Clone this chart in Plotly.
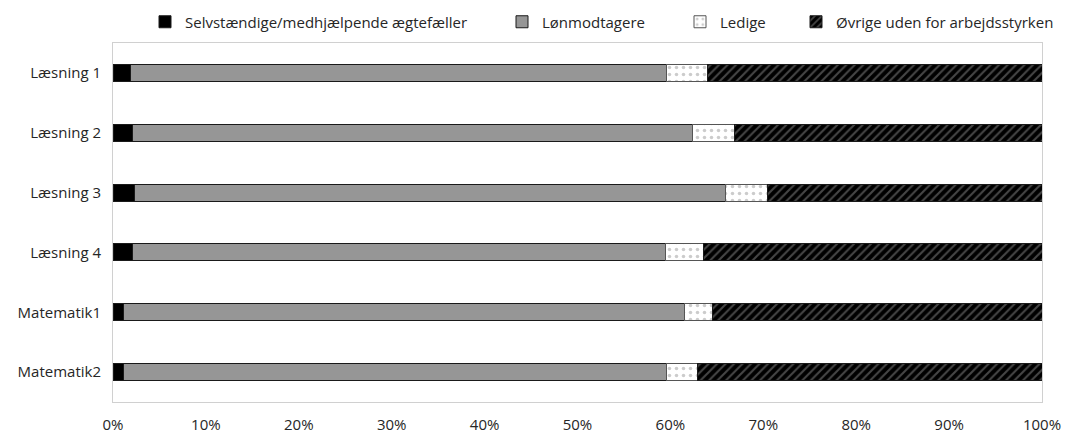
import plotly.graph_objects as go

categories = ["Læsning 1", "Læsning 2", "Læsning 3", "Læsning 4", "Matematik1", "Matematik2"]
selvstaendige = [1.9, 2.1, 2.3, 2.1, 1.1, 1.1]
loenmodtagere = [57.7, 60.3, 63.6, 57.4, 60.4, 58.5]
ledige = [4.4, 4.5, 4.5, 4.1, 3.0, 3.3]
oevrige = [36.0, 33.1, 29.6, 36.4, 35.5, 37.1]
x_ticks = list(range(0, 101, 10))
x_tick_labels = [f"{v}%" for v in x_ticks]

FONT = "Open Sans"
FS = 15
W, H = 1065, 433
L, R, T, B = 113, 23, 43, 31
PW, PH = W - L - R, H - T - B

fig = go.Figure()
line = dict(color="#1a1a1a", width=1)
fig.add_trace(go.Bar(y=categories, x=selvstaendige, orientation="h",
                     name="Selvstændige/medhjælpende ægtefæller", legend="legend",
                     showlegend=True,
                     marker=dict(color="#000000", line=line)))
fig.add_trace(go.Bar(y=categories, x=loenmodtagere, orientation="h",
                     name="Lønmodtagere", legend="legend2", showlegend=True,
                     marker=dict(color="#969696", line=line)))
fig.add_trace(go.Bar(y=categories, x=ledige, orientation="h",
                     name="Ledige", legend="legend3", showlegend=True,
                     marker=dict(color="#ffffff", line=dict(color="#555555", width=1),
                                 pattern=dict(shape=".", fgcolor="#9a9a9a", bgcolor="#ffffff",
                                              size=7, solidity=0.2))))
fig.add_trace(go.Bar(y=categories, x=oevrige, orientation="h",
                     name="Øvrige uden for arbejdsstyrken", legend="legend4", showlegend=True,
                     marker=dict(color="#000000", line=line,
                                 pattern=dict(shape="/", fgcolor="#8c8c8c", bgcolor="#000000",
                                              size=6, solidity=0.35))))

legend_y = 1 + (T - 22) / PH
def leg(text_start_px):
    return dict(orientation="h", x=(text_start_px - 40 - L) / PW, xanchor="left",
                y=legend_y, yanchor="middle", font=dict(size=FS), itemwidth=30,
                bgcolor="rgba(0,0,0,0)", borderwidth=0)

fig.update_layout(
    showlegend=True,
    barmode="stack",
    bargap=0.716,
    width=W, height=H,
    margin=dict(l=L, r=R, t=T, b=B, autoexpand=False),
    paper_bgcolor="white", plot_bgcolor="white",
    font=dict(family=FONT, size=FS, color="#262626"),
    legend=leg(185), legend2=leg(542), legend3=leg(720), legend4=leg(836),
    xaxis=dict(range=[0, 100], tickvals=x_ticks, ticktext=x_tick_labels, showgrid=False,
               zeroline=False, showline=True, linecolor="#d0d0d0", linewidth=1, mirror=True,
               ticks="", ticklabelstandoff=9, tickfont=dict(size=FS)),
    yaxis=dict(autorange="reversed", showgrid=False, showline=True, linecolor="#d0d0d0",
               linewidth=1, mirror=True, ticks="", ticklabelstandoff=8, tickfont=dict(size=FS)),
)
fig.write_html("out.html", config={"displayModeBar": False},
               post_script="document.body.style.margin='0';")
